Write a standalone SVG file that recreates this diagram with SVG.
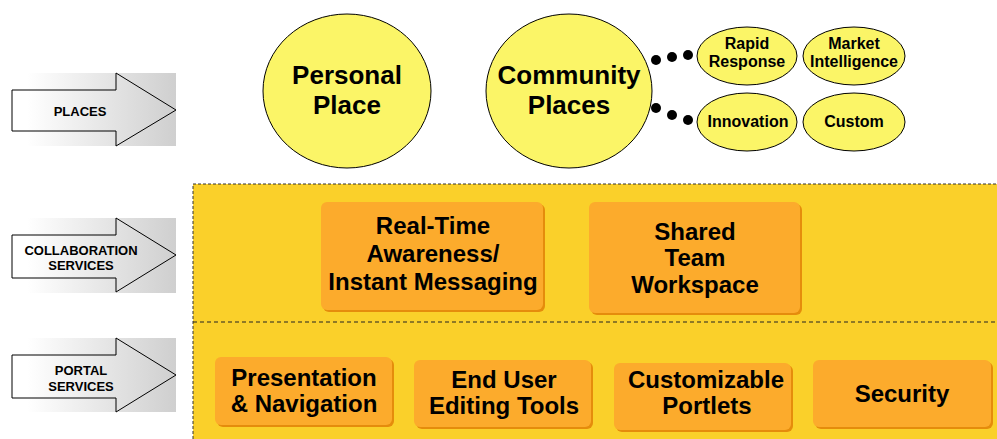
<svg xmlns="http://www.w3.org/2000/svg" width="997" height="439" viewBox="0 0 997 439">
<defs>
<linearGradient id="grey" x1="0" y1="0" x2="1" y2="0">
<stop offset="0" stop-color="#ffffff"/>
<stop offset="1" stop-color="#cfcfcf"/>
</linearGradient>
<style>
text{font-family:"Liberation Sans",Arial,sans-serif;font-weight:bold;fill:#000;text-anchor:middle}
.lbl{font-size:13px}
.big{font-size:26px}
.sm{font-size:16px}
.box{font-size:24px}
.arrow{fill:none;stroke:#000;stroke-width:1}
.circ{fill:#FBF567;stroke:#000;stroke-width:1}
.ob{fill:#FCAB2C}
.sh{fill:#E58C0C}
.dot{fill:#000}
</style>
</defs>
<rect width="997" height="439" fill="#fff"/>

<!-- panel -->
<g id="panel">
<rect x="193" y="184" width="810" height="260" fill="#FAD02A"/>
<path d="M193,439 V184 H997" fill="none" stroke="#333" stroke-width="1" stroke-dasharray="3,2"/>
<path d="M193,322 H997" fill="none" stroke="#222" stroke-width="1" stroke-dasharray="4,3"/>
</g>

<!-- side arrows -->
<g id="arrow-places">
<rect x="27" y="73" width="149" height="73" fill="url(#grey)"/>
<path class="arrow" d="M12,90 H116 V73 L176,110 L116,146 V131 H12 Z"/>
<text class="lbl" x="80" y="116">PLACES</text>
</g>
<g id="arrow-collab">
<rect x="27" y="218" width="149" height="75" fill="url(#grey)"/>
<path class="arrow" d="M12,235 H116 V218 L176,255 L116,292 V278 H12 Z"/>
<text class="lbl" x="81" y="255">COLLABORATION</text>
<text class="lbl" x="81" y="270">SERVICES</text>
</g>
<g id="arrow-portal">
<rect x="27" y="338" width="149" height="74" fill="url(#grey)"/>
<path class="arrow" d="M12,355 H116 V338 L176,375 L116,412 V398 H12 Z"/>
<text class="lbl" x="81" y="375">PORTAL</text>
<text class="lbl" x="81" y="391">SERVICES</text>
</g>

<!-- connectors -->
<g id="connectors">
<circle class="dot" cx="656" cy="60" r="5"/>
<circle class="dot" cx="672" cy="57" r="5"/>
<circle class="dot" cx="688" cy="55" r="5"/>
<circle class="dot" cx="656" cy="108" r="5"/>
<circle class="dot" cx="672" cy="115" r="5"/>
<circle class="dot" cx="688" cy="120" r="5"/>
</g>

<!-- places -->
<g id="personal-place">
<ellipse class="circ" cx="347" cy="91" rx="84" ry="77"/>
<text class="big" x="347" y="84">Personal</text>
<text class="big" x="347" y="114">Place</text>
</g>
<g id="community-places">
<ellipse class="circ" cx="569" cy="91" rx="83" ry="77"/>
<text class="big" x="569" y="84">Community</text>
<text class="big" x="569" y="114">Places</text>
</g>
<g id="rapid-response">
<ellipse class="circ" cx="747" cy="56" rx="50" ry="29"/>
<text class="sm" x="747" y="49">Rapid</text>
<text class="sm" x="747" y="67">Response</text>
</g>
<g id="market-intelligence">
<ellipse class="circ" cx="854" cy="56" rx="51" ry="29"/>
<text class="sm" x="854" y="49">Market</text>
<text class="sm" x="854" y="67">Intelligence</text>
</g>
<g id="innovation">
<ellipse class="circ" cx="747" cy="122" rx="50" ry="29"/>
<text class="sm" x="748" y="127">Innovation</text>
</g>
<g id="custom">
<ellipse class="circ" cx="854" cy="122" rx="51" ry="29"/>
<text class="sm" x="854" y="127">Custom</text>
</g>

<!-- collaboration services -->
<g id="realtime">
<rect class="sh" x="323" y="204" width="222" height="108" rx="6"/>
<rect class="ob" x="321" y="202" width="222" height="108" rx="6"/>
<text class="box" x="433" y="234">Real-Time</text>
<text class="box" x="433" y="262">Awareness/</text>
<text class="box" x="433" y="290">Instant Messaging</text>
</g>
<g id="shared-team">
<rect class="sh" x="591" y="204" width="211" height="111" rx="6"/>
<rect class="ob" x="589" y="202" width="211" height="111" rx="6"/>
<text class="box" x="695" y="240">Shared</text>
<text class="box" x="695" y="266">Team</text>
<text class="box" x="695" y="293">Workspace</text>
</g>

<!-- portal services -->
<g id="presentation">
<rect class="sh" x="217" y="359" width="177" height="68" rx="6"/>
<rect class="ob" x="215" y="357" width="177" height="68" rx="6"/>
<text class="box" x="304" y="386">Presentation</text>
<text class="box" x="304" y="412">&amp; Navigation</text>
</g>
<g id="end-user">
<rect class="sh" x="416" y="362" width="177" height="67" rx="6"/>
<rect class="ob" x="414" y="360" width="177" height="67" rx="6"/>
<text class="box" x="504" y="388">End User</text>
<text class="box" x="504" y="414">Editing Tools</text>
</g>
<g id="customizable">
<rect class="sh" x="616" y="365" width="177" height="67" rx="6"/>
<rect class="ob" x="614" y="363" width="177" height="67" rx="6"/>
<text class="box" x="706" y="388">Customizable</text>
<text class="box" x="707" y="414">Portlets</text>
</g>
<g id="security">
<rect class="sh" x="815" y="362" width="178" height="67" rx="6"/>
<rect class="ob" x="813" y="360" width="178" height="67" rx="6"/>
<text class="box" x="902" y="402">Security</text>
</g>
</svg>
